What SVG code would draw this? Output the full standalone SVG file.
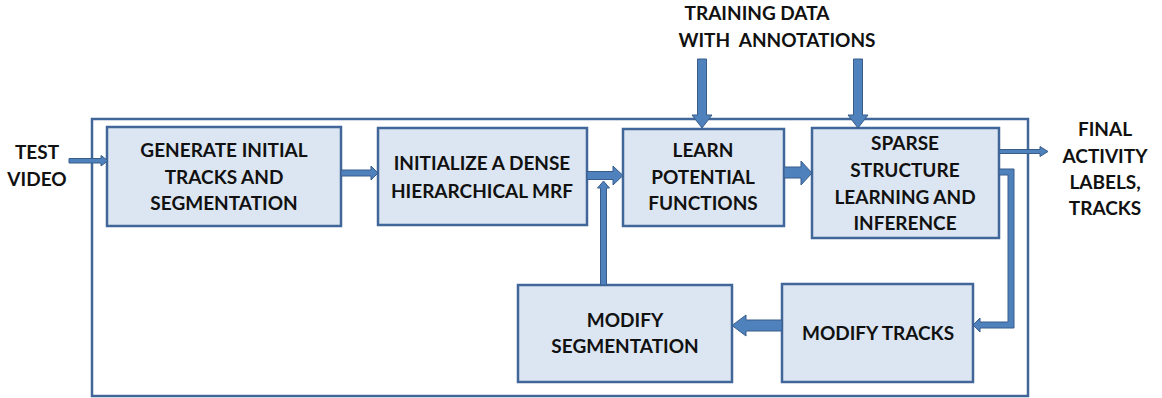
<svg xmlns="http://www.w3.org/2000/svg" width="1162" height="398" viewBox="0 0 1162 398">
  <style>
    .frame { fill: none; stroke: #41679A; stroke-width: 2.5; }
    .box { fill: #DCE6F2; stroke: #41679A; stroke-width: 2.5; }
    .arrow { fill: #4F81BD; stroke: #385D8A; stroke-width: 1; stroke-linejoin: miter; }
    text { font-family: Lato, "Liberation Sans", sans-serif; font-weight: bold; font-size: 19px; fill: #111111; text-anchor: middle; }
  </style>
  <rect width="1162" height="398" fill="#FFFFFF"/>

  <!-- enclosing system frame -->
  <rect class="frame" x="92" y="119" width="936" height="277"/>

  <g id="test-video">
    <text x="37" y="159">TEST</text>
    <text x="37" y="186">VIDEO</text>
  </g>

  <g id="generate-tracks">
    <rect class="box" x="107" y="127" width="234" height="99"/>
    <text x="224" y="157">GENERATE INITIAL</text>
    <text x="224" y="184">TRACKS AND</text>
    <text x="224" y="210">SEGMENTATION</text>
  </g>

  <g id="initialize-mrf">
    <rect class="box" x="378" y="128" width="209" height="97"/>
    <text x="482" y="170">INITIALIZE A DENSE</text>
    <text x="482" y="198">HIERARCHICAL MRF</text>
  </g>

  <g id="learn-potentials">
    <rect class="box" x="623" y="129" width="161" height="97"/>
    <text x="703" y="157">LEARN</text>
    <text x="703" y="184">POTENTIAL</text>
    <text x="703" y="210">FUNCTIONS</text>
  </g>

  <g id="sparse-structure">
    <rect class="box" x="812" y="128" width="187" height="110"/>
    <text x="905" y="150">SPARSE</text>
    <text x="905" y="177">STRUCTURE</text>
    <text x="905" y="204">LEARNING AND</text>
    <text x="905" y="230">INFERENCE</text>
  </g>

  <g id="modify-segmentation">
    <rect class="box" x="518" y="285" width="214" height="97"/>
    <text x="625" y="327">MODIFY</text>
    <text x="625" y="353">SEGMENTATION</text>
  </g>

  <g id="modify-tracks">
    <rect class="box" x="782" y="284" width="191" height="98"/>
    <text x="878" y="340">MODIFY TRACKS</text>
  </g>

  <g id="training-data">
    <text x="757" y="20">TRAINING DATA</text>
    <text x="777" y="47" xml:space="preserve">WITH  ANNOTATIONS</text>
  </g>

  <g id="final-output">
    <text x="1105" y="136">FINAL</text>
    <text x="1105" y="163">ACTIVITY</text>
    <text x="1105" y="189">LABELS,</text>
    <text x="1105" y="215">TRACKS</text>
  </g>

  <g id="connectors">
    <!-- test video into the pipeline -->
    <path class="arrow" d="M69,158.5 H101 V155.5 L108,160.7 L101,166 V163 H69 Z"/>
    <!-- generate -> initialize -->
    <path class="arrow" d="M341,170 H371 V166 L378,173 L371,180 V176 H341 Z"/>
    <!-- initialize -> learn -->
    <path class="arrow" d="M587,171.5 H613 V166 L623,175.5 L613,185 V179.5 H587 Z"/>
    <!-- modify segmentation feeds back up -->
    <path class="arrow" d="M600.5,285 V188 H597.5 L603.5,181 L609.5,188 H606.5 V285 Z"/>
    <!-- learn -> sparse structure -->
    <path class="arrow" d="M784,167 H801 V161 L812,173 L801,185 V178 H784 Z"/>
    <!-- training data inputs -->
    <path class="arrow" d="M697.5,59 H706.5 V115 H712 L702,128 L692,115 H697.5 Z"/>
    <path class="arrow" d="M853.5,59 H862.5 V115 H868 L858,128 L848,115 H853.5 Z"/>
    <!-- final output -->
    <path class="arrow" d="M999,149.5 H1040 V146.5 L1048,151.5 L1040,156.5 V153.5 H999 Z"/>
    <!-- sparse structure -> modify tracks (elbow) -->
    <path class="arrow" d="M999,169 H1014 V328 H980 V332 L973,325 L980,318 V322 H1008 V175 H999 Z"/>
    <!-- modify tracks -> modify segmentation -->
    <path class="arrow" d="M782,320 H746 V315 L732,325.5 L746,336 V331 H782 Z"/>
  </g>
</svg>
